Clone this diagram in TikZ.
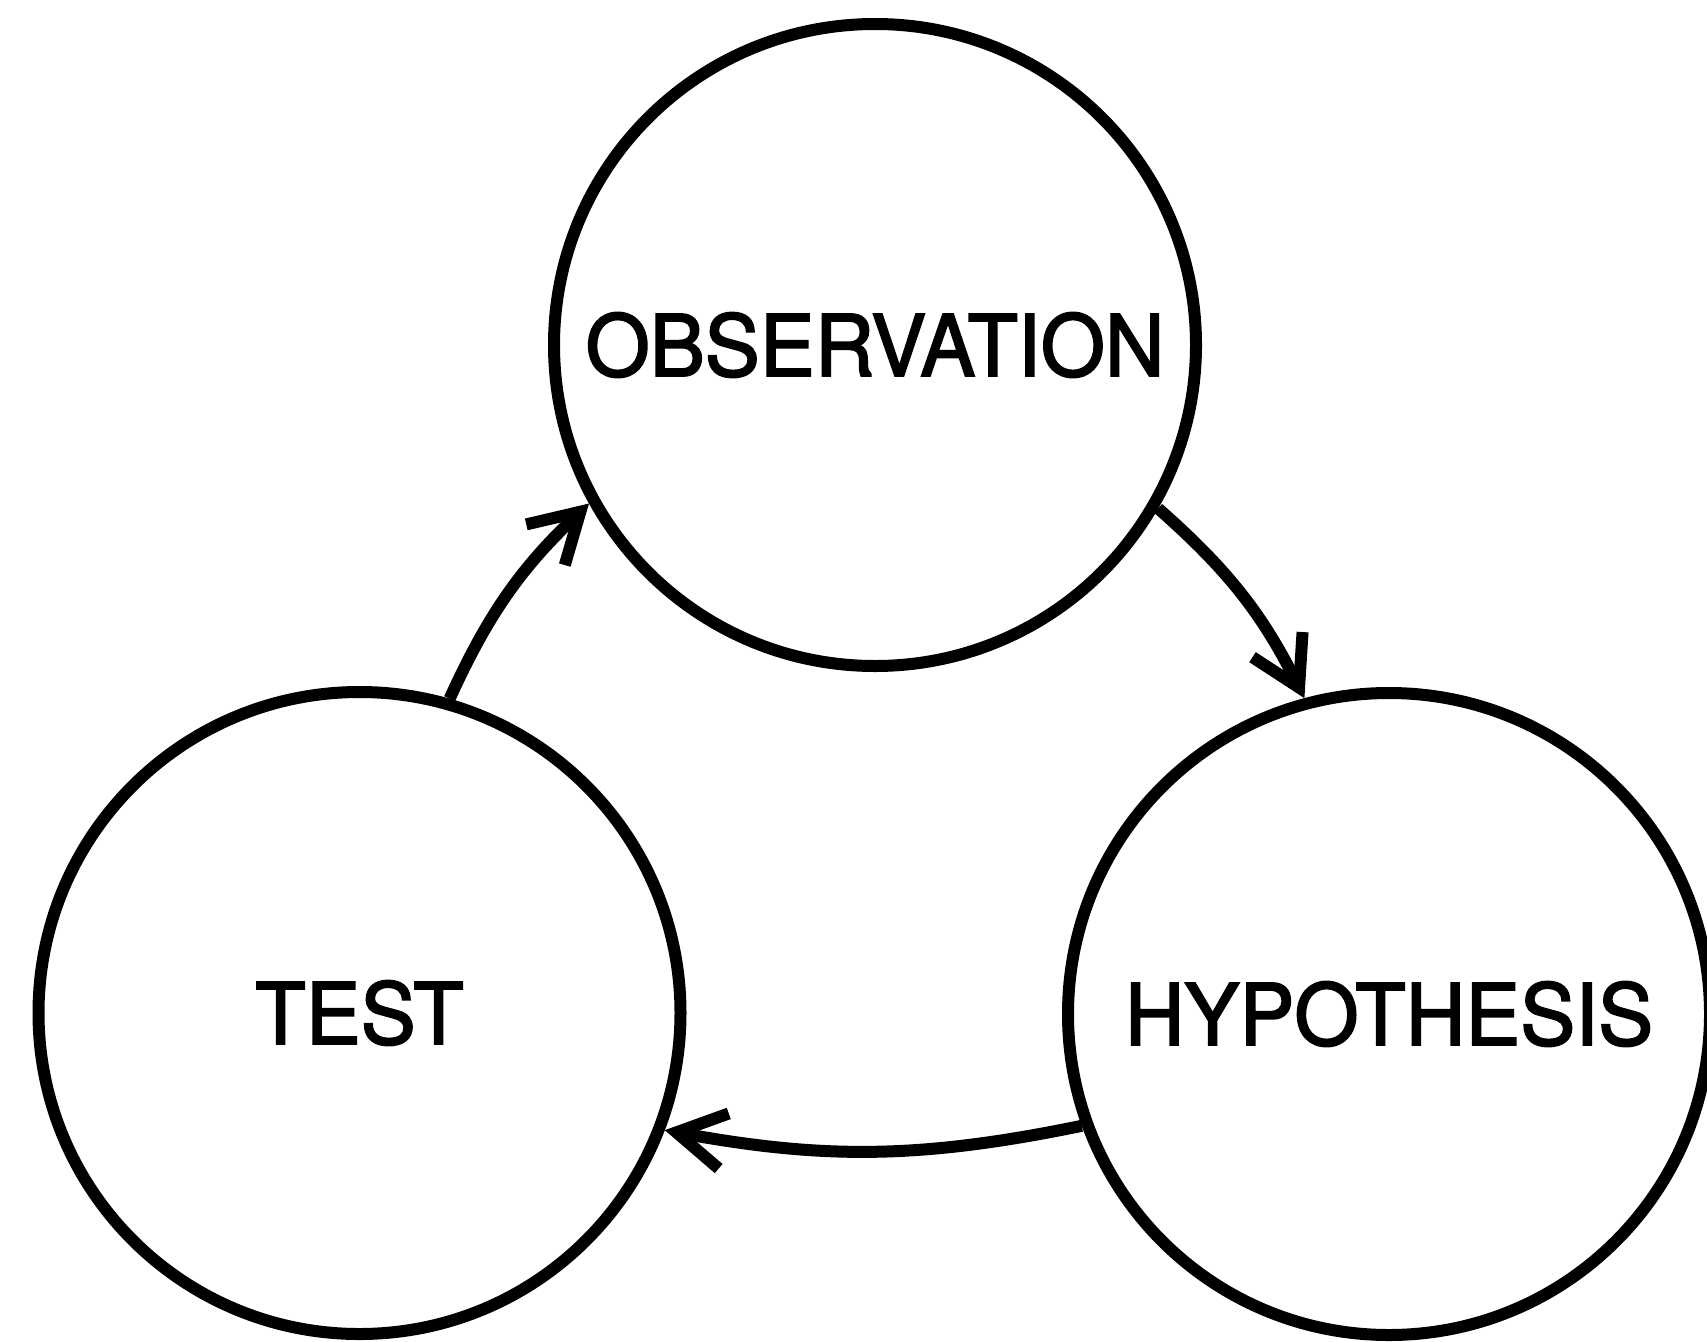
\documentclass[tikz,border=0pt]{standalone}
\usepackage{fontspec}
\setmainfont{TeX Gyre Heros}
\newfontfamily\stagefont{TeX Gyre Heros}[FakeBold=2.2]
\usetikzlibrary{arrows.meta}
\begin{document}
\begin{tikzpicture}[x=1pt,y=-1pt,
  stage/.style={circle, draw, line width=12pt, minimum size=642pt, inner sep=0pt,
    font=\stagefont\fontsize{85}{100}\selectfont},
  cycle/.style={line width=12pt, bend left=11,
    -{Straight Barb[length=48pt,width=56pt,line cap=butt,line join=miter]}}]
\useasboundingbox (0,0) rectangle (1707,1341);
% the three stages of the cycle
\node[stage] (obs)  at (875,345)    {\scalebox{0.97}[1]{OBSERVATION}};
\node[stage] (test) at (359.5,1013) {\scalebox{0.97}[1]{TEST}};
\node[stage] (hyp)  at (1389,1014)  {\scalebox{0.97}[1]{HYPOTHESIS}};
% curved arrows running clockwise between them
\draw[cycle] (test.74.7)  to (obs.209.9);
\draw[cycle] (obs.330.3)  to (hyp.105);
\draw[cycle] (hyp.200.7)  to (test.339.4);
\end{tikzpicture}
\end{document}
